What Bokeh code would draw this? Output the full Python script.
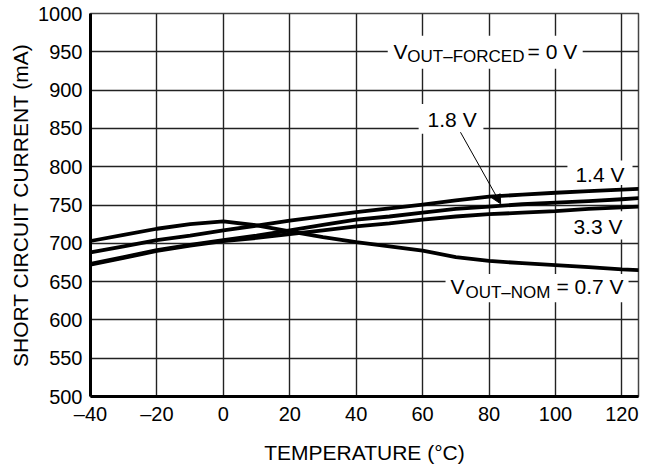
from bokeh.plotting import figure
from bokeh.models import FixedTicker, BoxAnnotation, Label, Arrow, NormalHead
from bokeh.embed import file_html
from bokeh.resources import INLINE

# ---- data ----
temps = [-40, -30, -20, -10, 0, 10, 20, 30, 40, 50, 60, 70, 80, 90, 100, 110, 120, 125]
i_0v7 = [703, 711, 719, 725, 728.5, 723.5, 715.5, 708, 701.5, 696, 690.5, 682, 677, 674, 671.5, 669, 666, 665]
i_1v4 = [688, 696, 704, 710, 717, 723, 729.5, 735, 740.6, 745.5, 750.6, 756, 761, 763.5, 766, 768, 770, 771]
i_1v8 = [673, 682, 691, 698, 704, 710, 717, 724, 731, 735, 740, 745, 748, 751, 753, 755, 757.5, 759]
i_3v3 = [672, 681, 690, 697, 703, 707, 712, 717, 722, 726, 731, 735, 738, 740, 742, 745, 747, 748]

x_ticks = [-40, -20, 0, 20, 40, 60, 80, 100, 120]
y_ticks = [500, 550, 600, 650, 700, 750, 800, 850, 900, 950, 1000]
x_tick_labels = {-40: "\u201340", -20: "\u201320"}

FONT = "Liberation Sans"

p = figure(width=652, height=469, x_range=(-40, 125), y_range=(500, 1000),
           output_backend="svg", toolbar_location=None,
           min_border_left=90, min_border_right=14, min_border_top=13, min_border_bottom=73)

p.background_fill_color = "white"
p.border_fill_color = "white"
p.outline_line_color = "#444444"
p.outline_line_width = 1.5

p.xaxis.ticker = FixedTicker(ticks=x_ticks)
p.yaxis.ticker = FixedTicker(ticks=y_ticks)
p.xaxis.major_label_overrides = x_tick_labels

for ax in (p.xaxis, p.yaxis):
    ax.axis_line_color = "black"
    ax.axis_line_width = 3
    ax.major_tick_line_color = None
    ax.minor_tick_line_color = None
    ax.major_tick_out = 0
    ax.major_tick_in = 0
    ax.minor_tick_out = 0
    ax.minor_tick_in = 0
    ax.major_label_text_font = FONT
    ax.major_label_text_font_size = "20px"
    ax.major_label_text_color = "black"
    ax.axis_label_text_font = FONT
    ax.axis_label_text_font_size = "21px"
    ax.axis_label_text_font_style = "normal"
    ax.axis_label_text_color = "black"

p.xaxis.axis_label = "TEMPERATURE (\u00b0C)"
p.yaxis.axis_label = "SHORT CIRCUIT CURRENT (mA)"
p.xaxis.major_label_standoff = 6
p.yaxis.major_label_standoff = 8
p.xaxis.axis_label_standoff = 13
p.yaxis.axis_label_standoff = 3

for g in (p.xgrid, p.ygrid):
    g.grid_line_color = "#222222"
    g.grid_line_width = 1.4
p.xgrid.ticker = FixedTicker(ticks=x_ticks)
p.ygrid.ticker = FixedTicker(ticks=y_ticks)

# white label boxes interrupting the grid
boxes = [
    (49.5, 108.2, 928, 971),    # VOUT-FORCED
    (58.8, 78.3, 843, 882),     # 1.8 V
    (103.6, 123.2, 776, 808),   # 1.4 V
    (104.5, 121.7, 705, 742),   # 3.3 V
    (66.9, 122.0, 623, 660),    # VOUT-NOM
]
for l, r, b, t in boxes:
    p.add_layout(BoxAnnotation(left=l, right=r, bottom=b, top=t, fill_color="white",
                               fill_alpha=1.0, line_color=None, level="underlay"))

for ys in (i_0v7, i_1v4, i_1v8, i_3v3):
    p.line(temps, ys, line_color="black", line_width=3.8, line_join="round", line_cap="round")

def lab(x, y, text, size="21px"):
    p.add_layout(Label(x=x, y=y, text=text, text_font=FONT, text_font_size=size,
                       text_color="black", text_baseline="alphabetic", text_align="left"))

lab(51.2, 950.9, "V")
lab(55.4, 944.3, "OUT\u2013FORCED", "17px")
lab(91.6, 950.9, "= 0 V")

lab(61.5, 861.5, "1.8 V")
lab(106.0, 789.8, "1.4 V")
lab(105.4, 722.3, "3.3 V")

lab(68.4, 643.2, "V")
lab(72.9, 636.2, "OUT\u2013NOM", "17px")
lab(100.3, 643.2, "= 0.7 V")

p.add_layout(Arrow(end=NormalHead(size=9, fill_color="black", line_color="black", line_width=1),
                   x_start=71.4, y_start=845, x_end=83.5, y_end=751.5,
                   line_color="black", line_width=1))

open("out.html", "w").write(file_html(p, INLINE))
